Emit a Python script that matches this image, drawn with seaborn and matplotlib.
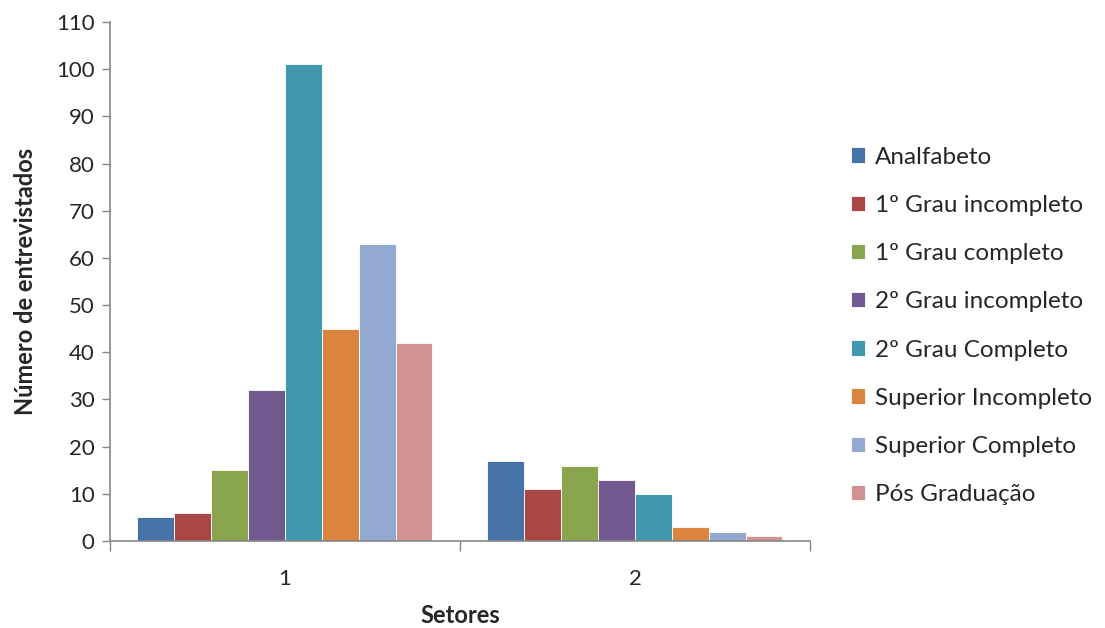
import matplotlib
matplotlib.use("Agg")
import matplotlib.pyplot as plt
import seaborn as sns
import pandas as pd
from matplotlib.ticker import FixedLocator

setores = ["1", "2"]
escolaridade = [
    "Analfabeto",
    "1º Grau incompleto",
    "1º Grau completo",
    "2º Grau incompleto",
    "2º Grau Completo",
    "Superior Incompleto",
    "Superior Completo",
    "Pós Graduação",
]
setor1 = [5, 6, 15, 32, 101, 45, 63, 42]
setor2 = [17, 11, 16, 13, 10, 3, 2, 1]
cores = ["#4572A7", "#AA4643", "#89A54E", "#71588F",
         "#4198AF", "#DB843D", "#93A9CF", "#D19392"]

rows = []
for setor, valores in zip(setores, [setor1, setor2]):
    for esc, v in zip(escolaridade, valores):
        rows.append({"Setores": setor, "Escolaridade": esc, "Entrevistados": v})
df = pd.DataFrame(rows)

sns.set_theme(style="white")
plt.rcParams["font.family"] = ["Lato", "DejaVu Sans"]

fig = plt.figure(figsize=(11.05, 6.28), dpi=100)
ax = fig.add_axes([0.0995, 0.1385, 0.6335, 0.8265])

sns.barplot(data=df, x="Setores", y="Entrevistados", hue="Escolaridade",
            hue_order=escolaridade, palette=cores, saturation=1, width=0.843,
            edgecolor="white", linewidth=0.6, ax=ax, legend=True)

ax.set_ylim(0, 110)
ax.set_xlim(-0.5, 1.5)
ax.set_yticks(range(0, 111, 10))
ax.tick_params(axis="y", which="major", direction="out", length=6,
               color="#868686", width=1, labelsize=16, pad=5, left=True)
ax.tick_params(axis="x", which="major", length=0, labelsize=16, pad=20)
ax.xaxis.set_minor_locator(FixedLocator([-0.5, 0.5, 1.5]))
ax.tick_params(axis="x", which="minor", direction="out", length=7,
               color="#868686", width=1, bottom=True)

for side in ["top", "right"]:
    ax.spines[side].set_visible(False)
for side in ["left", "bottom"]:
    ax.spines[side].set_color("#868686")
    ax.spines[side].set_linewidth(1.2)

ax.set_xlabel("Setores", fontsize=17, fontweight="bold", labelpad=11)
ax.set_ylabel("Número de entrevistados", fontsize=17, fontweight="bold", labelpad=14)

handles, labels = ax.get_legend_handles_labels()
ax.get_legend().remove()
fig.legend(handles, labels, loc="center left", bbox_to_anchor=(0.761, 0.481),
           frameon=False, fontsize=17.5, handlelength=0.6, handleheight=0.6,
           handletextpad=0.4, labelspacing=1.12, borderaxespad=0)

fig.savefig("out.png", dpi=100)
